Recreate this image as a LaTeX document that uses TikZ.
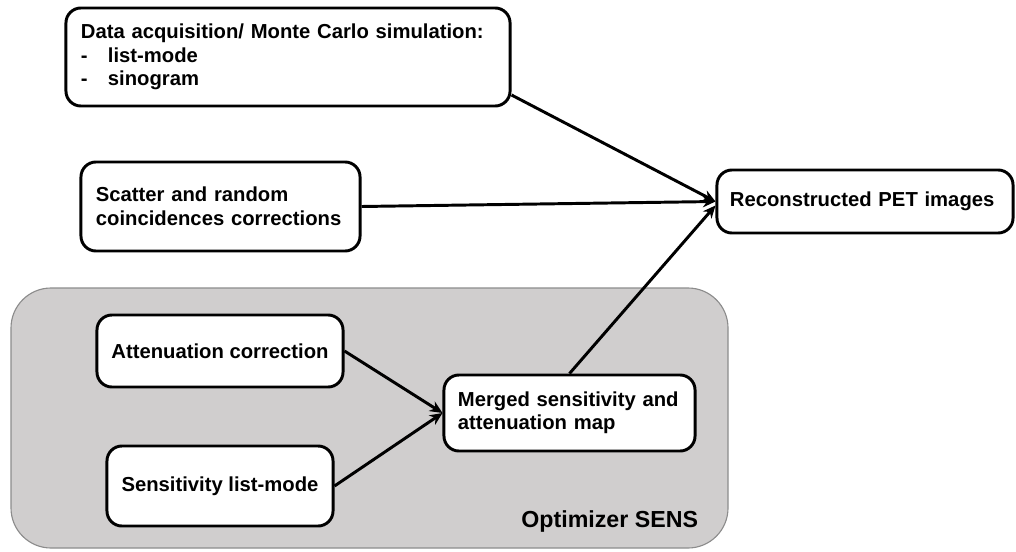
\documentclass[tikz,border=0pt]{standalone}
\usepackage{fontspec}
\setmainfont{Liberation Sans}
\usetikzlibrary{arrows.meta}

\begin{document}
\begin{tikzpicture}[
    x=0.025cm, y=-0.025cm,
    font=\bfseries\fontsize{14.4pt}{16.7pt}\selectfont,
    >={Stealth[length=9pt, width=8pt]},
    stagebox/.style={draw, line width=2.1pt, rounded corners=0.375cm, fill=white},
    flow/.style={->, line width=2.1pt}
]
    % 画布尺寸 (1016 x 551 像素)
    \path[use as bounding box] (0, 0) rectangle (1016, 551);

    % ==========================================
    % 配色
    % ==========================================
    \definecolor{regiongray}{HTML}{D0CECE}  % 优化区域底色
    \definecolor{regionedge}{HTML}{8C8C8C}  % 优化区域边框

    % ==========================================
    % Optimizer SENS 区域
    % ==========================================
    \draw[regionedge, fill=regiongray, line width=0.8pt, rounded corners=1cm] (11, 288) rectangle (728, 548);
    \node[anchor=base east, font=\bfseries\fontsize{16.5pt}{18pt}\selectfont] (optlabel) at (703, 527) {Optimizer SENS};

    % ==========================================
    % 流程节点
    % ==========================================
    \node[stagebox, align=left, text width=10.35cm, inner xsep=0.375cm, minimum height=2.45cm] (acq) at (288, 57)
        {Data acquisition/ Monte Carlo simulation:\\
         \makebox[0.675cm][l]{-}list-mode\\
         \makebox[0.675cm][l]{-}sinogram};
    \node[stagebox, align=left, text width=6.225cm, inner xsep=0.375cm, minimum height=2.225cm] (scatter) at (220.5, 206.5)
        {Scatter and random\\coincidences corrections};
    \node[stagebox, align=left, text width=6.75cm, inner xsep=0.325cm, minimum height=1.575cm] (recon) at (865, 201.5)
        {Reconstructed PET images};

    \node[stagebox, minimum width=6.15cm, minimum height=1.8cm] (atten) at (220, 351) {Attenuation correction};
    \node[stagebox, minimum width=5.65cm, minimum height=2cm] (sens) at (220, 486) {Sensitivity list-mode};
    \node[stagebox, align=left, text width=5.575cm, inner xsep=0.35cm, minimum height=1.9cm] (merged) at (569.5, 413)
        {Merged sensitivity and\\attenuation map};

    % ==========================================
    % 连接箭头
    % ==========================================
    \draw[flow] ([yshift=-0.95cm]acq.east) -- (recon.west);
    \draw[flow] (scatter.east) -- (recon.west);
    \draw[flow] (merged.north) -- ([yshift=-0.1cm]recon.west);

    \draw[flow] (atten.east) -- (merged.west);
    \draw[flow] (sens.east) -- (merged.west);

\end{tikzpicture}
\end{document}
